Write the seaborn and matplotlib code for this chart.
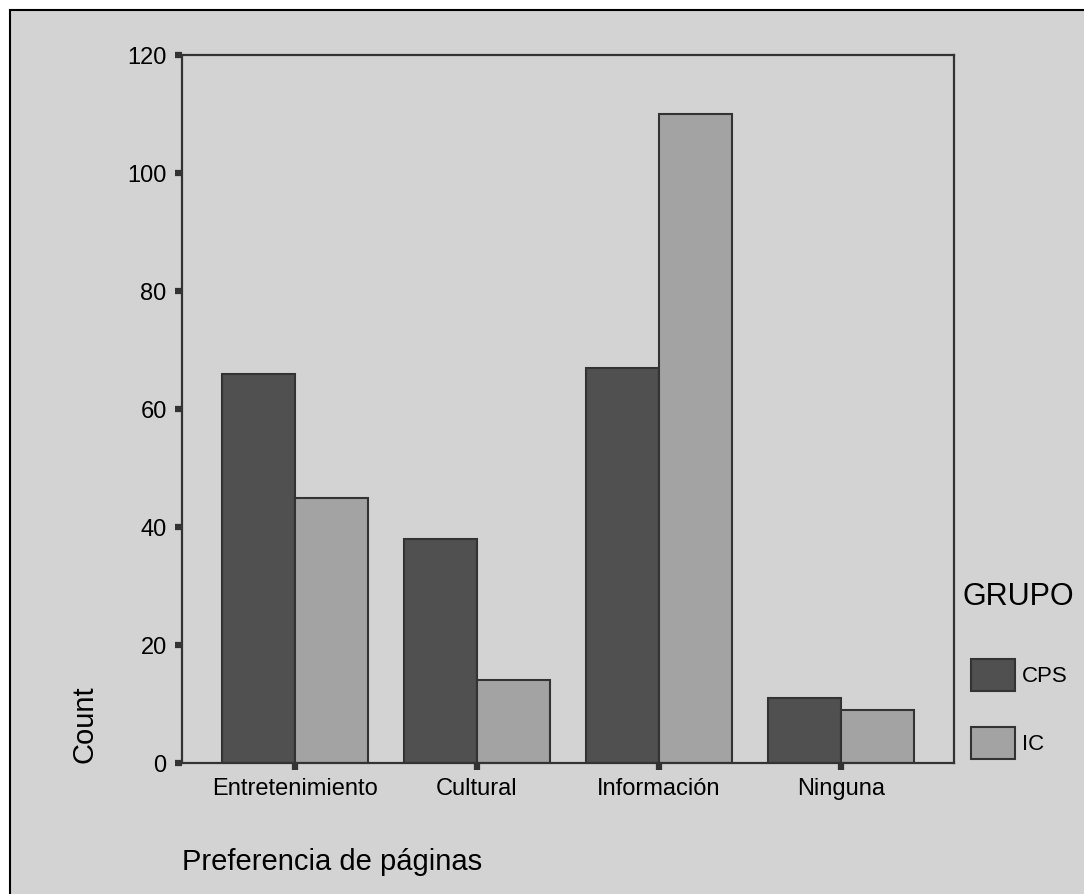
import matplotlib
matplotlib.use("Agg")
import matplotlib.pyplot as plt
from matplotlib.patches import Rectangle
import seaborn as sns
import pandas as pd

# datos
paginas = ["Entretenimiento", "Cultural", "Información", "Ninguna"]
grupos = ["CPS", "IC"]
cps = [66, 38, 67, 11]
ic = [45, 14, 110, 9]

df = pd.DataFrame({
    "pagina": paginas * 2,
    "grupo": ["CPS"] * 4 + ["IC"] * 4,
    "count": cps + ic,
})

fondo = "#d3d3d3"
linea = "#333333"

sns.set_style("white")
plt.rcParams["font.family"] = ["Liberation Sans", "DejaVu Sans"]
plt.rcParams["text.color"] = "black"
plt.rcParams["axes.labelcolor"] = "black"

W, H = 1084, 894
fig = plt.figure(figsize=(W / 100, H / 100), dpi=100, facecolor="white")

# marco gris exterior
fig.patches.append(Rectangle((10 / W, -0.1), 1.2, 1 - 10 / H + 0.1,
                             transform=fig.transFigure, facecolor=fondo,
                             edgecolor="black", linewidth=1.5, zorder=-10))

ax = fig.add_axes([182 / W, 1 - 763 / H, (954 - 182) / W, (763 - 55) / H])
ax.set_facecolor(fondo)

sns.barplot(data=df, x="pagina", y="count", hue="grupo", order=paginas,
            hue_order=grupos, palette=["#505050", "#a3a3a3"], saturation=1,
            edgecolor=linea, linewidth=1.5, ax=ax)

ax.set_ylim(0, 120)
ax.set_yticks(range(0, 121, 20))
ax.set_xlim(-0.62, 3.62)

for s in ax.spines.values():
    s.set_visible(True)
    s.set_color(linea)
    s.set_linewidth(1.6)

ax.tick_params(axis="both", which="major", direction="out", length=5, width=4.5,
               color=linea, labelcolor="black", labelsize=17, pad=6,
               bottom=True, left=True)

ax.set_xlabel("Preferencia de páginas", fontsize=21, loc="left")
ax.xaxis.set_label_coords(0, -0.12)
ax.set_ylabel("Count", fontsize=21, loc="bottom")
ax.yaxis.set_label_coords(-0.108, 0)

# leyenda
handles, labels = ax.get_legend_handles_labels()
ax.legend(handles, labels, fontsize=16, frameon=False, loc="upper left",
          bbox_to_anchor=(971 / W, 1 - 659 / H), bbox_transform=fig.transFigure,
          borderpad=0, borderaxespad=0, handlelength=2.0, handleheight=1.85,
          handletextpad=0.3, labelspacing=1.6)
fig.text(963 / W, 1 - 597 / H, "GRUPO", fontsize=22, ha="left", va="center")

fig.savefig("out.png", dpi=100, facecolor=fig.get_facecolor())
